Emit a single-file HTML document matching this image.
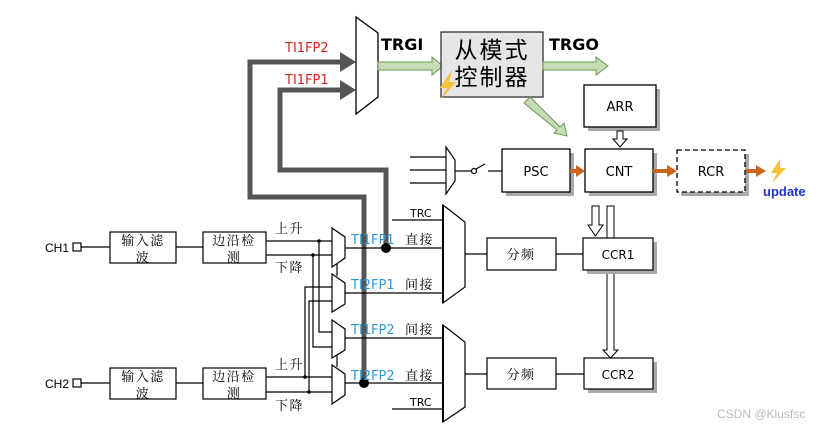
<!DOCTYPE html>
<html><head><meta charset="utf-8"><style>
body{margin:0;background:#fff}
svg{display:block}
text{font-family:"Liberation Sans","Noto Sans CJK SC",sans-serif}
.cj{font-family:"Liberation Serif","Noto Serif CJK SC",serif;letter-spacing:1.5px}
.dv{font-family:"DejaVu Sans","Noto Sans CJK SC",sans-serif}
</style></head><body>
<svg width="832" height="428" viewBox="0 0 832 428" xmlns="http://www.w3.org/2000/svg">
<rect width="832" height="428" fill="#fff"/>
<g fill="none" stroke="#555" stroke-width="5">
<polyline points="364,383 364,197 250,197 250,62 342,62"/>
<polyline points="386,248 386,170 280,170 280,90 342,90"/>
</g>
<polygon points="340,52 356,62 340,72" fill="#555"/>
<polygon points="340,80 356,90 340,100" fill="#555"/>
<text x="285" y="52" font-size="13" fill="#d0281c" class="dv">TI1FP2</text>
<text x="285" y="84" font-size="13" fill="#d0281c" class="dv">TI1FP1</text>
<polygon points="356,17 378,33 378,97 356,114" fill="#fff" stroke="#000" stroke-width="1.3"/>
<text x="381" y="50" font-size="16" font-weight="bold" class="dv">TRGI</text>
<polygon points="378,62 432,62 432,57 443,66 432,75 432,70 378,70" fill="#c5dcb4" stroke="#6a9a55"/>
<rect x="441" y="32" width="102" height="65" fill="#e6e6e6" stroke="#333" stroke-width="1.3"/>
<text x="492" y="58" font-size="23" text-anchor="middle" font-family="Noto Serif CJK SC,serif" letter-spacing="2">从模式</text>
<text x="492" y="85" font-size="23" text-anchor="middle" font-family="Noto Serif CJK SC,serif" letter-spacing="2">控制器</text>
<polygon points="452,70 440,88 447,88 440,100 456,82 449,82" fill="#f7c234"/>
<text x="549" y="50" font-size="16" font-weight="bold" class="dv">TRGO</text>
<polygon points="543,62 596,62 596,57 608,66 596,75 596,70 543,70" fill="#c5dcb4" stroke="#6a9a55"/>
<polygon points="524,103 530,97 560,127 564,123 567,136 554,133 557,130" fill="#c5dcb4" stroke="#6a9a55"/>
<rect x="588" y="89" width="72" height="42" fill="#aaa"/>
<rect x="584" y="85" width="72" height="42" fill="#fff" stroke="#000" stroke-width="1.3"/>
<text x="620" y="111" font-size="13" text-anchor="middle" class="dv">ARR</text>
<polygon points="617,131 623,131 623,139 627,139 620,147 613,139 617,139" fill="#fff" stroke="#000"/>
<rect x="506" y="153" width="68" height="43" fill="#aaa"/>
<rect x="502" y="149" width="68" height="43" fill="#fff" stroke="#000" stroke-width="1.3"/>
<text x="536" y="176" font-size="13" text-anchor="middle" class="dv">PSC</text>
<rect x="589" y="153" width="68" height="43" fill="#aaa"/>
<rect x="585" y="149" width="68" height="43" fill="#fff" stroke="#000" stroke-width="1.3"/>
<text x="619" y="176" font-size="13" text-anchor="middle" class="dv">CNT</text>
<rect x="681" y="154" width="68" height="42" fill="#aaa"/>
<rect x="677" y="150" width="68" height="42" fill="#fff" stroke="#000" stroke-width="1.3" stroke-dasharray="5,3"/>
<text x="711" y="176" font-size="13" text-anchor="middle" class="dv">RCR</text>
<g fill="#c8641c">
<rect x="570" y="169" width="8" height="4"/><polygon points="576,165 585,171 576,177"/>
<rect x="653" y="169" width="16" height="4"/><polygon points="667,165 677,171 667,177"/>
<rect x="746" y="169" width="12" height="4"/><polygon points="756,165 766,171 756,177"/>
</g>
<polygon points="780,159 771,173 777,173 772,183 786,168 780,168" fill="#f7c234"/>
<text x="763" y="196" font-size="13" font-weight="bold" fill="#2233cc" font-family="DejaVu Sans Mono,Liberation Mono,monospace">update</text>
<g stroke="#000" stroke-width="1.2" fill="none">
<line x1="410" y1="157" x2="446" y2="157"/><line x1="410" y1="170" x2="446" y2="170"/><line x1="410" y1="183" x2="446" y2="183"/>
<polygon points="446,147 455,160 455,181 446,194" fill="#fff"/>
<line x1="455" y1="171" x2="471" y2="171"/>
<circle cx="474" cy="171" r="2.5"/>
<line x1="476" y1="169" x2="485" y2="164"/>
<line x1="488" y1="171" x2="502" y2="171"/>
</g>
<polygon points="592,206 599,206 599,225 603,225 595.5,236 588,225 592,225" fill="#fff" stroke="#000"/>
<rect x="607" y="206" width="7" height="32" fill="#fff" stroke="#000"/>
<polygon points="607,270 614,270 614,350 618,350 610.5,358 603,350 607,350" fill="#fff" stroke="#000"/>
<g stroke="#000" stroke-width="1.2" fill="none">
<rect x="73" y="243" width="8" height="8"/><line x1="81" y1="247" x2="110" y2="247"/>
<rect x="110" y="232" width="66" height="31"/><line x1="176" y1="247" x2="203" y2="247"/>
<rect x="203" y="232" width="63" height="31"/>
<line x1="266" y1="241" x2="332" y2="241"/><line x1="266" y1="255" x2="332" y2="255"/>
<rect x="73" y="379" width="8" height="8"/><line x1="81" y1="383" x2="110" y2="383"/>
<rect x="110" y="368" width="66" height="31"/><line x1="176" y1="383" x2="203" y2="383"/>
<rect x="203" y="368" width="63" height="31"/>
<line x1="266" y1="377" x2="332" y2="377"/><line x1="266" y1="392" x2="332" y2="392"/>
<polyline points="319,241 319,332 332,332"/>
<polyline points="313,255 313,347 332,347"/>
<polyline points="305,377 305,287 332,287"/>
<polyline points="309,392 309,301 332,301"/>
<polygon points="332,228 345,237 345,258 332,267" fill="#fff"/>
<polygon points="332,274 345,283 345,304 332,312" fill="#fff"/>
<polygon points="332,320 345,329 345,350 332,358" fill="#fff"/>
<polygon points="332,365 345,374 345,395 332,404" fill="#fff"/>
<line x1="337" y1="264" x2="337" y2="276"/><line x1="337" y1="355" x2="337" y2="367"/>
<line x1="345" y1="248" x2="443" y2="248"/>
<line x1="345" y1="293" x2="443" y2="293"/>
<line x1="345" y1="338" x2="443" y2="338"/>
<line x1="345" y1="383" x2="443" y2="383"/>
<line x1="392" y1="220" x2="443" y2="220"/>
<line x1="392" y1="409" x2="443" y2="409"/>
<polygon points="443,205 465,222 465,287 443,303" fill="#fff"/>
<polygon points="443,325 465,342 465,407 443,422" fill="#fff"/>
<line x1="465" y1="254" x2="487" y2="254"/><line x1="465" y1="374" x2="487" y2="374"/>
<rect x="487" y="238" width="69" height="32"/><line x1="556" y1="254" x2="583" y2="254"/>
<rect x="487" y="358" width="69" height="31"/><line x1="556" y1="374" x2="584" y2="374"/>
</g>
<rect x="587" y="242" width="70" height="32" fill="#aaa"/>
<rect x="583" y="238" width="70" height="32" fill="#fff" stroke="#000" stroke-width="1.2"/>
<rect x="588" y="362" width="69" height="31" fill="#aaa"/>
<rect x="584" y="358" width="69" height="31" fill="#fff" stroke="#000" stroke-width="1.2"/>
<line x1="443" y1="205" x2="443" y2="303" stroke="#000" stroke-width="2"/>
<line x1="443" y1="325" x2="443" y2="422" stroke="#000" stroke-width="2"/>
<circle cx="386" cy="248" r="5" fill="#000"/>
<circle cx="364" cy="383" r="5" fill="#000"/>
<g fill="#000"><circle cx="319" cy="241" r="1.8"/><circle cx="313" cy="255" r="1.8"/><circle cx="305" cy="377" r="1.8"/><circle cx="309" cy="392" r="1.8"/></g>
<g font-size="13">
<text x="45" y="252" font-size="12" font-family="DejaVu Sans Condensed,DejaVu Sans,sans-serif">CH1</text><text x="45" y="388" font-size="12" font-family="DejaVu Sans Condensed,DejaVu Sans,sans-serif">CH2</text>
<text x="143" y="245" text-anchor="middle" class="cj">输入滤</text><text x="143" y="262" text-anchor="middle" class="cj">波</text>
<text x="234" y="245" text-anchor="middle" class="cj">边沿检</text><text x="234" y="262" text-anchor="middle" class="cj">测</text>
<text x="143" y="381" text-anchor="middle" class="cj">输入滤</text><text x="143" y="398" text-anchor="middle" class="cj">波</text>
<text x="234" y="381" text-anchor="middle" class="cj">边沿检</text><text x="234" y="398" text-anchor="middle" class="cj">测</text>
<text x="275" y="233" class="cj">上升</text><text x="275" y="272" class="cj">下降</text>
<text x="275" y="369" class="cj">上升</text><text x="275" y="410" class="cj">下降</text>
<text x="410" y="217" font-size="11" class="dv">TRC</text><text x="410" y="406" font-size="11" class="dv">TRC</text>
<text x="405" y="244" class="cj">直接</text><text x="405" y="289" class="cj">间接</text><text x="405" y="334" class="cj">间接</text><text x="405" y="380" class="cj">直接</text>
<text x="521" y="259" text-anchor="middle" class="cj">分频</text><text x="521" y="379" text-anchor="middle" class="cj">分频</text>
<text x="618" y="259" text-anchor="middle" font-size="12" class="dv">CCR1</text><text x="618" y="379" text-anchor="middle" font-size="12" class="dv">CCR2</text>
</g>
<g font-size="13" fill="#2a9ad8" class="dv">
<text x="351" y="244" class="dv">TI1FP1</text><text x="351" y="289" class="dv">TI2FP1</text><text x="351" y="334" class="dv">TI1FP2</text><text x="351" y="380" class="dv">TI2FP2</text>
</g>
<text x="717" y="418" font-size="12" fill="#bbb">CSDN @Klusfsc</text>
</svg>
</body></html>
